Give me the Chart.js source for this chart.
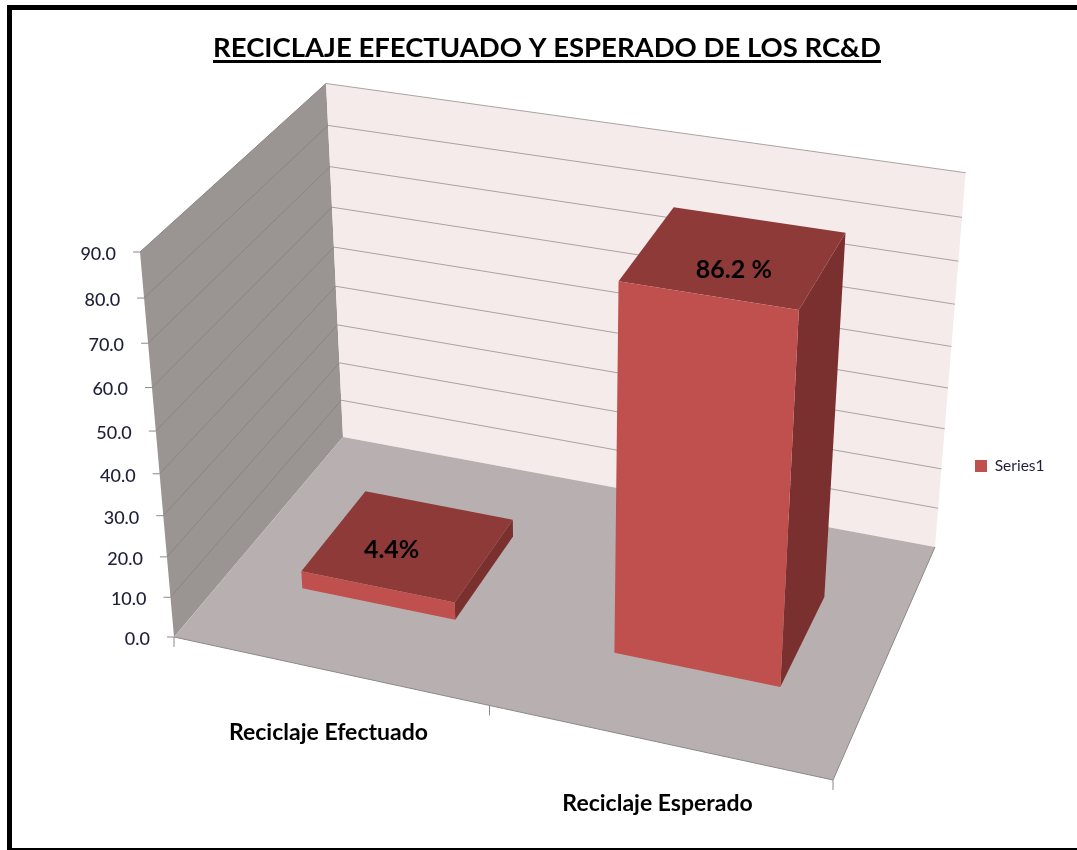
<!DOCTYPE html>
<html><head><meta charset="utf-8">
<style>html,body{margin:0;padding:0;background:#fff}canvas{display:block;filter:blur(0.4px)}</style>
<script src="https://cdn.jsdelivr.net/npm/chart.js@4"></script>
</head><body><canvas id="c" width="1077" height="850"></canvas>
<script>
const titleText = 'RECICLAJE EFECTUADO Y ESPERADO DE LOS RC&D';
const categories = ['Reciclaje Efectuado', 'Reciclaje Esperado'];
const seriesName = 'Series1';
const seriesValues = [4.4, 86.2];
const valueLabels = ['4.4%', '86.2 %'];
const valueLabelOffsets = [[-17, 5], [0, 13]];
const axisMax = 90, axisStep = 10;

// Frame of the 3D box on the page: floor corners and the top of the left axis
const O = [174, 637], U = [833, 780], V = [343, 437], B = [935, 547], T = [140, 252];
const wt = 0.92;
const depthRange = [0.295, 0.69];
const sans = 'Lato, Carlito, sans-serif';
const colors = { wall:'#F5EBEB', side:'#9A9492', floor:'#B8B0B0', grid:'#A8A4A4', sideGrid:'#8A8583', edge:'#8C8888', tick:'#8C8888',
                 front:'#C0504D', top:'#8E3A38', right:'#7A302E' };

// projective map (u along categories, v depth, t height, all 0..1)
const den = (U[0]-B[0])*(V[1]-B[1]) - (V[0]-B[0])*(U[1]-B[1]);
const sx = O[0]-U[0]+B[0]-V[0], sy = O[1]-U[1]+B[1]-V[1];
const wu = 1 + (sx*(V[1]-B[1]) - (V[0]-B[0])*sy)/den;
const wv = 1 + ((U[0]-B[0])*sy - sx*(U[1]-B[1]))/den;
function proj(u, v, t) {
  const x = O[0] + u*(wu*U[0]-O[0]) + v*(wv*V[0]-O[0]) + t*(wt*T[0]-O[0]);
  const y = O[1] + u*(wu*U[1]-O[1]) + v*(wv*V[1]-O[1]) + t*(wt*T[1]-O[1]);
  const w = 1 + u*(wu-1) + v*(wv-1) + t*(wt-1);
  return [x/w, y/w];
}
function poly(ctx, pts, fill) {
  ctx.beginPath(); pts.forEach((p,i)=> i?ctx.lineTo(p[0],p[1]):ctx.moveTo(p[0],p[1])); ctx.closePath();
  ctx.fillStyle = fill; ctx.fill();
}
function seg(ctx, a, b, col, lw) {
  ctx.beginPath(); ctx.moveTo(a[0],a[1]); ctx.lineTo(b[0],b[1]); ctx.strokeStyle=col; ctx.lineWidth=lw||1; ctx.stroke();
}

const {BarController, BarElement, LinearScale, CategoryScale} = Chart;
const frac = (scale, value) => (value-scale.min)/(scale.max-scale.min);

class Bar3D extends BarElement {
  draw(ctx) {
    const ca = this.flatArea;
    const {x, y, base, width} = this.getProps(['x','y','base','width'], true);
    const u0 = (x-width/2-ca.left)/ca.width, u1 = (x+width/2-ca.left)/ca.width;
    const t0 = (ca.bottom-base)/ca.height, t1 = (ca.bottom-y)/ca.height;
    const [v0, v1] = depthRange;
    ctx.save();
    poly(ctx, [proj(u1,v0,t0),proj(u1,v1,t0),proj(u1,v1,t1),proj(u1,v0,t1)], colors.right);
    poly(ctx, [proj(u0,v0,t1),proj(u1,v0,t1),proj(u1,v1,t1),proj(u0,v1,t1)], colors.top);
    poly(ctx, [proj(u0,v0,t0),proj(u1,v0,t0),proj(u1,v0,t1),proj(u0,v0,t1)], colors.front);
    ctx.restore();
  }
}
Bar3D.id = 'bar3d';
Bar3D.defaults = BarElement.defaults;
class Bar3DController extends BarController {
  draw() {
    this.getMeta().data.forEach(el => { el.flatArea = this.chart.chartArea; });
    super.draw();
  }
}
Bar3DController.id = 'bar3dc';
Bar3DController.defaults = Object.assign({}, BarController.defaults, {dataElementType:'bar3d'});
Bar3DController.overrides = BarController.overrides;

class PerspY extends LinearScale {
  _computeLabelArea() { return undefined; }
  _computeLabelItems(ca) {
    const items = super._computeLabelItems(ca);
    items.forEach((it,i)=>{
      const p = proj(0,0,frac(this,this.ticks[i].value));
      it.options.translation = [p[0]-24, p[1]+2];
      it.options.textAlign = 'right';
      it.options.textBaseline = 'middle';
      it.textOffset = 0;
    });
    return items;
  }
}
PerspY.id = 'perspY'; PerspY.defaults = LinearScale.defaults;
class PerspX extends CategoryScale {
  _computeLabelArea() { return undefined; }
  _computeLabelItems(ca) {
    const items = super._computeLabelItems(ca);
    items.forEach((it,i)=>{
      const px = this.getPixelForTick(i);
      const p = proj((px-this.left)/this.width,0,0);
      it.options.translation = [p[0], p[1]+62];
      it.options.textAlign = 'center';
      it.options.textBaseline = 'middle';
      it.textOffset = 0;
    });
    return items;
  }
}
PerspX.id = 'perspX'; PerspX.defaults = CategoryScale.defaults;
Chart.register(Bar3D, Bar3DController, PerspY, PerspX);

const box3d = {
  id:'box3d',
  afterLayout(chart) {
    const tb = chart.titleBlock;
    if (tb) { const h = tb.bottom-tb.top; tb.left=0; tb.right=1094; tb.top=32; tb.bottom=32+h; }
    const lg = chart.legend;
    if (lg) { const w=lg.right-lg.left, h=lg.bottom-lg.top; lg.left=965; lg.right=965+w; lg.top=466-h/2; lg.bottom=466+h/2; }
  },
  beforeDatasetsDraw(chart) {
    const ctx = chart.ctx, ys = chart.scales.y;
    ctx.save();
    poly(ctx,[proj(0,0,0),proj(0,1,0),proj(0,1,1),proj(0,0,1)],colors.side);
    poly(ctx,[proj(0,1,0),proj(1,1,0),proj(1,1,1),proj(0,1,1)],colors.wall);
    poly(ctx,[proj(0,0,0),proj(1,0,0),proj(1,1,0),proj(0,1,0)],colors.floor);
    ys.ticks.forEach(tk=>{
      const t = frac(ys,tk.value);
      if (t>0) {
        seg(ctx,proj(0,0,t),proj(0,1,t),colors.sideGrid);
        seg(ctx,proj(0,1,t),proj(1,1,t),colors.grid);
      }
      const p = proj(0,0,t);
      seg(ctx,[p[0]-7,p[1]],p,colors.tick);
    });
    [0,0.5,1].forEach(u=>{ const p=proj(u,0,0); seg(ctx,p,[p[0],p[1]+10],colors.tick); });
    seg(ctx,proj(0,0,0),proj(1,0,0),colors.edge);
    seg(ctx,proj(1,0,0),proj(1,1,0),colors.edge);
    ctx.restore();
  },
  afterDatasetsDraw(chart) {
    const ctx = chart.ctx, ca = chart.chartArea, meta = chart.getDatasetMeta(0);
    ctx.save();
    ctx.fillStyle='#000'; ctx.font='bold 25px '+sans; ctx.textAlign='center'; ctx.textBaseline='middle';
    meta.data.forEach((el,i)=>{
      const p = proj((el.x-ca.left)/ca.width,(depthRange[0]+depthRange[1])/2,(ca.bottom-el.y)/ca.height);
      ctx.fillText(valueLabels[i],p[0]+valueLabelOffsets[i][0],p[1]+valueLabelOffsets[i][1]);
    });
    ctx.restore();
  },
  afterDraw(chart) {
    const ctx = chart.ctx;
    ctx.save();
    ctx.fillStyle='#000';
    ctx.fillRect(7,5,1070,5); ctx.fillRect(7,5,5,845); ctx.fillRect(7,848,1070,2);
    ctx.fillRect(213,60,668,3);
    ctx.restore();
  }
};

new Chart(document.getElementById('c'), {
  type:'bar3dc',
  data:{labels:categories, datasets:[{label:seriesName, data:seriesValues,
    backgroundColor:colors.front, borderColor:'#8C3836', borderWidth:0, barPercentage:0.50, categoryPercentage:1}]},
  options:{
    responsive:false, animation:false, devicePixelRatio:1,
    plugins:{
      title:{display:true,text:titleText,color:'#000',font:{family:sans,size:27.5,weight:'bold'},padding:0},
      legend:{display:true,position:'right',labels:{boxWidth:12,boxHeight:12,color:'#1F1F3A',font:{family:sans,size:15.5},padding:10}},
      tooltip:{enabled:false}
    },
    scales:{
      x:{type:'perspX',grid:{display:false},border:{display:false},
         ticks:{color:'#000',font:{family:sans,size:23,weight:'bold'},maxRotation:0,autoSkip:false}},
      y:{type:'perspY',min:0,max:axisMax,grid:{display:false},border:{display:false},
         ticks:{stepSize:axisStep,color:'#1F1F3A',font:{family:sans,size:18,weight:'500'},callback:v=>v.toFixed(1)}}
    }
  },
  plugins:[box3d]
});
</script></body></html>
